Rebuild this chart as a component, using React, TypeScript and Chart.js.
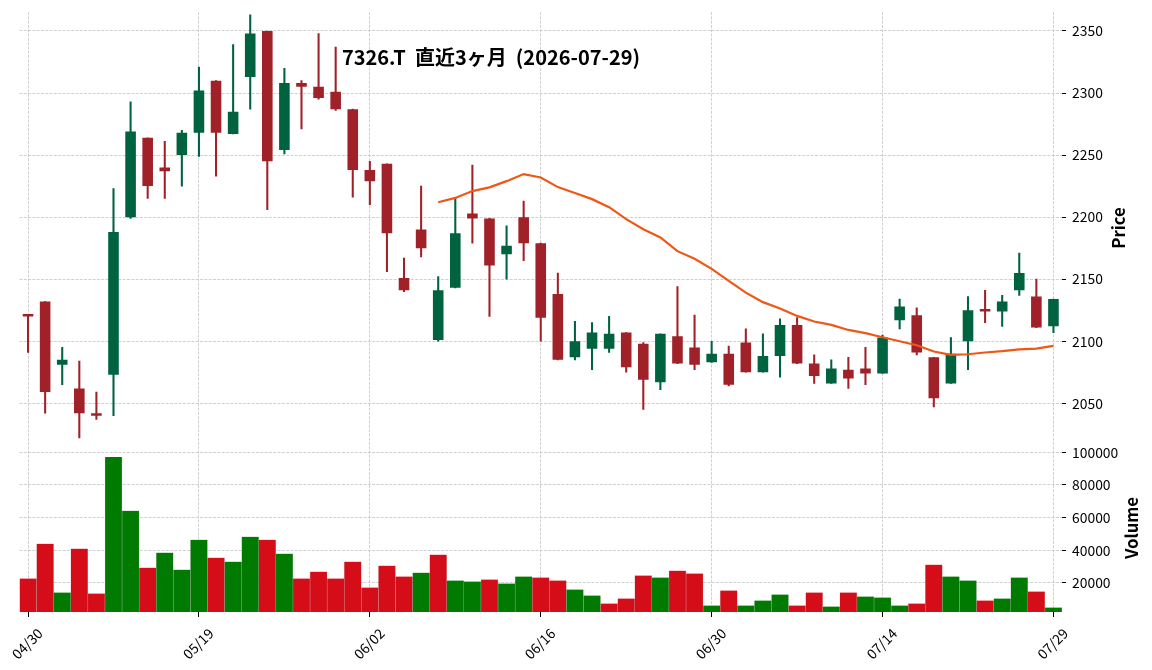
import React, { useEffect, useRef } from 'react';
import { Chart, registerables } from 'chart.js';

Chart.register(...registerables);

const dates = [
  '04/30', '05/01', '05/07', '05/08', '05/11', '05/12', '05/13', '05/14', '05/15', '05/18',
  '05/19', '05/20', '05/21', '05/22', '05/25', '05/26', '05/27', '05/28', '05/29', '06/01',
  '06/02', '06/03', '06/04', '06/05', '06/08', '06/09', '06/10', '06/11', '06/12', '06/15',
  '06/16', '06/17', '06/18', '06/19', '06/22', '06/23', '06/24', '06/25', '06/26', '06/29',
  '06/30', '07/01', '07/02', '07/03', '07/06', '07/07', '07/08', '07/09', '07/10', '07/13',
  '07/14', '07/15', '07/16', '07/17', '07/21', '07/22', '07/23', '07/24', '07/27', '07/28',
  '07/29',
];

const opens = [
  2121, 2132, 2081, 2062, 2041, 2073, 2200, 2264, 2240, 2250,
  2268, 2310, 2267, 2313, 2350, 2254, 2308, 2305, 2301, 2287,
  2238, 2243, 2151, 2190, 2101, 2143, 2203, 2199, 2170, 2200,
  2179, 2138, 2087, 2094, 2094, 2107, 2098, 2067, 2104, 2095,
  2083, 2090, 2099, 2075, 2088, 2113, 2082, 2066, 2077, 2078,
  2074, 2117, 2121, 2087, 2066, 2100, 2125, 2124, 2141, 2136,
  2112,
];
const highs = [
  2121, 2132, 2095, 2084, 2059, 2223, 2293, 2264, 2261, 2270,
  2321, 2310, 2339, 2363, 2350, 2320, 2310, 2348, 2337, 2287,
  2245, 2243, 2167, 2225, 2152, 2216, 2242, 2199, 2193, 2213,
  2179, 2155, 2116, 2115, 2120, 2107, 2099, 2106, 2144, 2121,
  2100, 2096, 2110, 2106, 2118, 2119, 2089, 2085, 2087, 2095,
  2105, 2134, 2127, 2087, 2103, 2136, 2141, 2137, 2171, 2150,
  2134,
];
const lows = [
  2091, 2042, 2065, 2022, 2037, 2040, 2199, 2215, 2215, 2225,
  2249, 2233, 2267, 2287, 2206, 2251, 2271, 2295, 2286, 2216,
  2210, 2156, 2140, 2168, 2100, 2143, 2179, 2120, 2150, 2165,
  2100, 2085, 2085, 2077, 2091, 2075, 2045, 2061, 2082, 2077,
  2083, 2064, 2075, 2075, 2071, 2082, 2066, 2066, 2062, 2065,
  2074, 2110, 2089, 2047, 2066, 2077, 2115, 2112, 2137, 2111,
  2107,
];
const closes = [
  2120, 2059, 2085, 2042, 2040, 2188, 2269, 2225, 2237, 2268,
  2302, 2268, 2285, 2348, 2245, 2308, 2305, 2296, 2287, 2238,
  2229, 2187, 2141, 2175, 2141, 2187, 2199, 2161, 2177, 2179,
  2119, 2085, 2100, 2107, 2106, 2079, 2069, 2106, 2082, 2081,
  2090, 2065, 2075, 2088, 2113, 2082, 2072, 2078, 2070, 2074,
  2103, 2128, 2091, 2054, 2090, 2125, 2124, 2132, 2155, 2111,
  2134,
];
const volumes = [
  22650, 44020, 14100, 40970, 13490, 97150, 64170, 29360, 38520, 28140,
  46460, 35470, 33030, 48300, 46460, 37910, 22650, 26920, 22650, 33030,
  17150, 30590, 23870, 26310, 37300, 21420, 20810, 22040, 19590, 23870,
  23260, 21420, 15930, 12260, 7380, 10430, 24480, 23260, 27530, 25700,
  6160, 15320, 6160, 9210, 12880, 6160, 14100, 5550, 14100, 11650,
  11040, 6160, 7380, 31200, 23870, 21420, 9210, 10430, 23260, 14710,
  4940,
];
// 25-day moving average, first value at index 24
const MA_START = 24;
const ma25 = [
  2212, 2215.5, 2221, 2224, 2229, 2234.7, 2232, 2224.2, 2219.4, 2214.5,
  2208, 2198.4, 2190.3, 2183.6, 2172.6, 2166.4, 2158.3, 2148.7, 2139.2, 2131.5,
  2126.3, 2120.4, 2115.9, 2113.2, 2109.1, 2106.5, 2103.2, 2100, 2096.8, 2091.7,
  2089, 2089.5, 2090.9, 2092, 2093.5, 2094, 2096.2,
];

const priceTicks = [2050, 2100, 2150, 2200, 2250, 2300, 2350];
const volumeTicks = [20000, 40000, 60000, 80000, 100000];

const titleText = '7326.T  直近3ヶ月  (2026-07-29)';
const priceLabel = 'Price';
const volumeLabel = 'Volume';

const FONT = "'Noto Sans CJK JP', 'Noto Sans', sans-serif";
const GRID = '#c4c4c4';
const UP = '#006340';
const DOWN = '#a02128';
const VOL_UP = '#007a00';
const VOL_DOWN = '#d50d18';
const MA_COLOR = '#ef5714';

export default function App() {
  const ref = useRef<HTMLCanvasElement>(null);

  useEffect(() => {
    const canvas = ref.current;
    if (!canvas) return;
    const bodyColors = opens.map((o, i) => (closes[i] >= o ? UP : DOWN));
    const volColors = closes.map((c, i) =>
      (i === 0 ? c >= opens[0] : c >= closes[i - 1]) ? VOL_UP : VOL_DOWN
    );
    const maData = dates.map((_, i) => (i < MA_START ? null : ma25[i - MA_START]));

    const labelsPlugin = {
      id: 'labelsPlugin',
      afterDraw(chart: any) {
        const ctx = chart.ctx;
        ctx.save();
        ctx.fillStyle = '#000';
        ctx.font = `bold 20px ${FONT}`;
        ctx.textAlign = 'center';
        ctx.textBaseline = 'alphabetic';
        ctx.fillText(titleText, 491, 64.5);

        ctx.font = `bold 16.7px ${FONT}`;
        ctx.save();
        ctx.translate(1125, 228);
        ctx.rotate(-Math.PI / 2);
        ctx.fillText(priceLabel, 0, 0);
        ctx.restore();
        ctx.save();
        ctx.translate(1138.3, 528);
        ctx.rotate(-Math.PI / 2);
        ctx.fillText(volumeLabel, 0, 0);
        ctx.restore();
        ctx.restore();
      },
    };

    const yGrid = {
      color: GRID,
      lineWidth: 0.8,
      tickLength: 4,
      tickColor: '#000',
      tickWidth: 1,
      tickBorderDash: [],
    } as any;
    const yTicks = {
      padding: 6,
      color: '#000',
      font: { family: FONT, size: 13.9 },
      callback: (v: any) => String(v),
    };
    const fitY = (s: any) => {
      s.width = 90;
      s.paddingTop = 0;
      s.paddingBottom = 0;
    };

    const chart = new Chart(canvas, {
      type: 'bar',
      data: {
        labels: dates,
        datasets: [
          {
            type: 'line',
            label: 'MA25',
            data: maData as any,
            borderColor: MA_COLOR,
            borderWidth: 2.2,
            pointRadius: 0,
            tension: 0,
            fill: false,
            yAxisID: 'y',
            order: 1,
          } as any,
          {
            label: 'body',
            data: opens.map((o, i) => [o, closes[i]]) as any,
            backgroundColor: bodyColors,
            barPercentage: 0.62,
            categoryPercentage: 1,
            minBarLength: 2.5,
            grouped: false,
            yAxisID: 'y',
            order: 2,
          },
          {
            label: 'wick',
            data: lows.map((l, i) => [l, highs[i]]) as any,
            backgroundColor: bodyColors,
            barThickness: 1.4,
            grouped: false,
            yAxisID: 'y',
            order: 3,
          },
          {
            label: 'volume',
            data: volumes,
            backgroundColor: volColors,
            borderColor: 'rgba(0,0,0,0.18)',
            borderWidth: { left: 0.5, right: 0.5, top: 0, bottom: 0 } as any,
            barPercentage: 1,
            categoryPercentage: 1,
            grouped: false,
            yAxisID: 'yv',
            order: 4,
          },
        ],
      },
      options: {
        animation: false,
        responsive: false,
        maintainAspectRatio: false,
        events: [],
        layout: { padding: { left: 19.5, top: 12, right: 0, bottom: 0 } },
        plugins: {
          legend: { display: false },
          tooltip: { enabled: false },
          title: { display: false },
        },
        scales: {
          x: {
            type: 'category',
            offset: true,
            grid: {
              offset: false,
              color: (c: any) => (c.index % 10 === 0 ? GRID : 'transparent'),
              lineWidth: 0.8,
              tickLength: 5,
              tickColor: (c: any) => (c.index % 10 === 0 ? '#000' : 'transparent'),
              tickWidth: 1,
              tickBorderDash: [],
            } as any,
            border: { display: false, dash: [3, 1.3] },
            ticks: {
              autoSkip: false,
              minRotation: 45,
              maxRotation: 45,
              labelOffset: 12,
              padding: 8,
              color: '#000',
              font: { family: FONT, size: 13.9 },
              callback: (_v: any, i: number) => (i % 10 === 0 ? dates[i] : ''),
            },
            afterFit: (s: any) => {
              s.height = 58;
              s.paddingLeft = 0;
              s.paddingRight = 0;
            },
          },
          y: {
            type: 'linear',
            position: 'right',
            stack: 'panes',
            stackWeight: 430,
            min: 2018.8,
            max: 2365.3,
            grid: yGrid,
            border: { display: false, dash: [3, 1.3] },
            ticks: yTicks,
            afterBuildTicks: (s: any) => {
              s.ticks = priceTicks.map((v) => ({ value: v }));
            },
            afterFit: fitY,
          },
          yv: {
            type: 'linear',
            position: 'right',
            stack: 'panes',
            stackWeight: 170,
            min: 2200,
            max: 106300,
            grid: yGrid,
            border: { display: false, dash: [3, 1.3] },
            ticks: yTicks,
            afterBuildTicks: (s: any) => {
              s.ticks = volumeTicks.map((v) => ({ value: v }));
            },
            afterFit: fitY,
          },
        },
      } as any,
      plugins: [labelsPlugin],
    });

    return () => chart.destroy();
  }, []);

  return (
    <div style={{ position: 'absolute', left: 0, top: 0, width: 1152, height: 670, background: '#fff' }}>
      <canvas ref={ref} width={1152} height={670} style={{ width: 1152, height: 670, display: 'block' }} />
    </div>
  );
}
